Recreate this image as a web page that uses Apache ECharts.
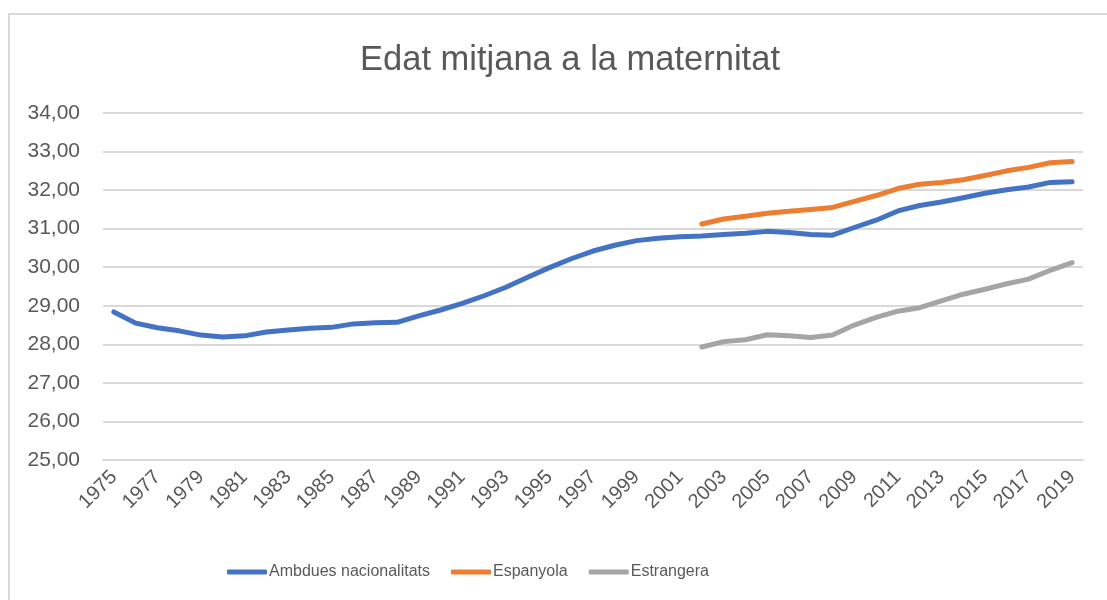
<!DOCTYPE html>
<html>
<head>
<meta charset="utf-8">
<script src="https://cdn.jsdelivr.net/npm/echarts@6/dist/echarts.min.js"></script>
<style>
html,body{margin:0;padding:0;background:#fff;}
#chart{width:1107px;height:600px;}
</style>
</head>
<body>
<div id="chart"></div>
<script>
const years = [];
for (let y = 1975; y <= 2019; y++) years.push(String(y));

const ambdues = [28.84, 28.55, 28.43, 28.35, 28.24, 28.19, 28.22, 28.32, 28.37, 28.42,
  28.44, 28.53, 28.56, 28.57, 28.74, 28.89, 29.06, 29.26, 29.48, 29.74,
  29.99, 30.22, 30.42, 30.57, 30.69, 30.75, 30.79, 30.81, 30.85, 30.88,
  30.93, 30.90, 30.85, 30.83, 31.03, 31.22, 31.46, 31.60, 31.69, 31.80,
  31.92, 32.01, 32.08, 32.20, 32.22];

const espanyola = [null, null, null, null, null, null, null, null, null, null,
  null, null, null, null, null, null, null, null, null, null,
  null, null, null, null, null, null, null, 31.12, 31.25, 31.32,
  31.40, 31.45, 31.50, 31.55, 31.71, 31.86, 32.04, 32.15, 32.20, 32.27,
  32.38, 32.50, 32.59, 32.71, 32.74];

const estrangera = [null, null, null, null, null, null, null, null, null, null,
  null, null, null, null, null, null, null, null, null, null,
  null, null, null, null, null, null, null, 27.93, 28.07, 28.12,
  28.25, 28.22, 28.18, 28.24, 28.50, 28.70, 28.86, 28.95, 29.13, 29.30,
  29.43, 29.57, 29.69, 29.92, 30.12];

const seriesNames = ['Ambdues nacionalitats', 'Espanyola', 'Estrangera'];
const colors = ['#4472C4', '#ED7D31', '#A5A5A5'];

const chart = echarts.init(document.getElementById('chart'));
const font = 'Liberation Sans';
const mk = (name, data, color) => ({
  name, type: 'line', data, showSymbol: false, symbol: 'none',
  lineStyle: { width: 5, color, cap: 'round', join: 'round' },
  itemStyle: { color }, connectNulls: false, animation: false
});

chart.setOption({
  animation: false,
  backgroundColor: '#fff',
  graphic: [{
    type: 'rect', shape: { x: 9, y: 14, width: 1110, height: 600 },
    style: { fill: 'none', stroke: '#d9d9d9', lineWidth: 2 }, silent: true
  }],
  title: {
    text: 'Edat mitjana a la maternitat',
    left: 355, top: 38,
    textStyle: { fontFamily: font, fontSize: 34.5, fontWeight: 'normal', color: '#595959' }
  },
  legend: {
    data: seriesNames,
    top: 559, left: 222,
    itemWidth: 40, itemHeight: 5, itemGap: 21,
    icon: 'roundRect',
    textStyle: { fontFamily: font, fontSize: 16, color: '#595959', padding: [0, 0, 0, -3] }
  },
  grid: { left: 103, right: 24, top: 113, bottom: 140, containLabel: false },
  xAxis: {
    type: 'category', data: years, boundaryGap: true,
    axisLine: { show: true, lineStyle: { color: '#d9d9d9', width: 2 } },
    axisTick: { show: false },
    axisLabel: { interval: 1, rotate: 45, fontFamily: font, fontSize: 20, color: '#595959', margin: 14 }
  },
  yAxis: {
    type: 'value', min: 25, max: 34, interval: 1,
    axisLine: { show: false }, axisTick: { show: false },
    splitLine: { lineStyle: { color: '#d9d9d9', width: 2 } },
    axisLabel: {
      fontFamily: font, fontSize: 21, color: '#595959', margin: 23,
      formatter: v => v.toFixed(2).replace('.', ',')
    }
  },
  series: [
    mk(seriesNames[0], ambdues, colors[0]),
    mk(seriesNames[1], espanyola, colors[1]),
    mk(seriesNames[2], estrangera, colors[2])
  ]
});
</script>
</body>
</html>
